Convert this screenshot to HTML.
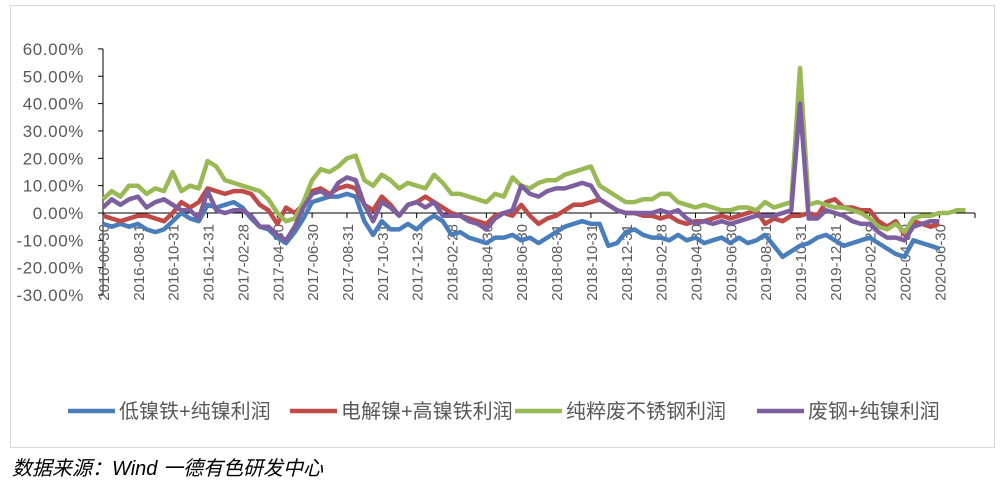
<!DOCTYPE html>
<html><head><meta charset="utf-8"><style>
body{margin:0;background:#fff;width:1006px;height:492px;overflow:hidden;font-family:"Liberation Sans","Noto Sans CJK SC",sans-serif}
</style></head><body>
<svg id="chart" width="1006" height="492" xmlns="http://www.w3.org/2000/svg" style="position:absolute;left:0;top:0">
<rect x="10.5" y="5.5" width="984" height="442" fill="#fff" stroke="#d9d9d9"/>
<g id="yax"></g><g id="xax"></g><g id="series"></g><g id="legend"></g>
<text x="12" y="475" font-size="20" font-style="italic" fill="#000" font-family="Liberation Sans,Noto Sans CJK SC,sans-serif">数据来源：Wind  一德有色研发中心</text>
</svg>
<script>
const yTicks=[60,50,40,30,20,10,0,-10,-20,-30];
const xLabels=["2016-06-30","2016-08-31","2016-10-31","2016-12-31","2017-02-28","2017-04-30","2017-06-30","2017-08-31","2017-10-31","2017-12-31","2018-02-28","2018-04-30","2018-06-30","2018-08-31","2018-10-31","2018-12-31","2019-02-28","2019-04-30","2019-06-30","2019-08-31","2019-10-31","2019-12-31","2020-02-29","2020-04-30","2020-06-30"];
const seriesNames=["低镍铁+纯镍利润","电解镍+高镍铁利润","纯粹废不锈钢利润","废钢+纯镍利润"];
const blue=[-4,-5,-4,-5,-4,-6,-7,-6,-3,0,-2,-3,3,2,3,4,2,-2,-5,-6,-9,-11,-7,-2,4,5,6,6,7,6,-3,-8,-3,-6,-6,-4,-6,-3,-1,-3,-8,-7,-9,-10,-11,-9,-9,-8,-10,-9,-11,-9,-7,-5,-4,-3,-4,-4,-12,-11,-7,-6,-8,-9,-9,-10,-8,-10,-9,-11,-10,-9,-11,-9,-11,-10,-8,-12,-16,-14,-12,-11,-9,-8,-10,-12,-11,-10,-9,-11,-13,-15,-16,-10,-11,-12,-13];
const red=[-1,-2,-3,-2,-1,-1,-2,-3,0,4,2,4,9,8,7,8,8,7,3,1,-4,2,0,3,8,9,7,9,10,9,3,1,6,3,-1,3,4,6,4,2,0,-1,-2,-3,-4,-1,0,-1,3,-1,-4,-2,-1,1,3,3,4,5,3,1,0,0,-1,-1,-2,-1,-3,-4,-3,-3,-2,-1,-2,-1,0,1,-4,-2,-3,-1,-1,0,-1,4,5,2,2,1,1,-3,-5,-3,-8,-3,-4,-5,-4];
const green=[5,8,6,10,10,7,9,8,15,8,10,9,19,17,12,11,10,9,8,5,0,-3,-2,4,12,16,15,17,20,21,12,10,14,12,9,11,10,9,14,11,7,7,6,5,4,7,6,13,10,9,11,12,12,14,15,16,17,10,8,6,4,4,5,5,7,7,4,3,2,3,2,1,1,2,2,1,4,2,3,4,53,3,4,3,2,2,1,0,-2,-5,-6,-4,-7,-2,-1,-1,0,0,1,1];
const purple=[2,5,3,5,6,2,4,5,3,1,1,-2,8,1,0,1,1,-1,-5,-5,-8,-10,-5,2,7,8,6,11,13,12,3,-3,4,2,-1,3,4,2,4,-1,-1,-1,-3,-4,-6,-2,0,1,10,7,6,8,9,9,10,11,10,5,3,1,0,0,0,0,1,0,1,-2,-4,-3,-4,-3,-4,-3,-2,-1,-1,-1,0,1,40,-2,-2,1,0,-1,-3,-4,-4,-7,-9,-9,-10,-5,-4,-3,-3];
const colors=["#4a7ebb","#be4b48","#98b954","#7d5fa0"];
const ns="http://www.w3.org/2000/svg";
const X0=103,STEP=34.85/4,Y0=213,PER=2.735;
const xs=i=>X0+i*STEP, ys=v=>Y0-v*PER;
function mk(t,a,p){const e=document.createElementNS(ns,t);for(const k in a)e.setAttribute(k,a[k]);p.appendChild(e);return e;}
const yax=document.getElementById('yax'),xax=document.getElementById('xax'),sg=document.getElementById('series'),lg=document.getElementById('legend');
mk('line',{x1:X0,y1:ys(60),x2:X0,y2:ys(-30),stroke:'#000','stroke-width':1},yax);
yTicks.forEach(v=>{
 const t=mk('line',{x1:X0-5,y1:ys(v),x2:X0,y2:ys(v),stroke:'#000'},yax);
 
 
 const l=mk('text',{x:84,y:ys(v)+6,'text-anchor':'end','font-size':17,'letter-spacing':'0.6',fill:'#595959'},yax);
 l.textContent=v.toFixed(2)+'%';
 
 
});
mk('line',{x1:X0,y1:Y0,x2:975,y2:Y0,stroke:'#000'},xax);
mk('line',{x1:975,y1:Y0,x2:975,y2:Y0+5,stroke:'#000'},xax);
xLabels.forEach((s,i)=>{
 const x=xs(i*4);
 const t=mk('line',{x1:x,y1:Y0,x2:x,y2:Y0+5,stroke:'#000'},xax);
 
 
 const l=mk('text',{x:0,y:0,'text-anchor':'end','font-size':15,fill:'#595959',transform:`translate(${x+6},224) rotate(-90)`},xax);
 l.textContent=s;
 
 
});
[blue,red,green,purple].forEach((arr,k)=>{
 const p=mk('polyline',{points:arr.map((v,i)=>xs(i).toFixed(1)+','+ys(v).toFixed(1)).join(' '),fill:'none',stroke:colors[k],'stroke-width':4.5,'stroke-linejoin':'round'},sg);
 
 
});
const lx=[68,290,515,757];
seriesNames.forEach((n,k)=>{
 const g=mk('g',{},lg);
 
 
 mk('line',{x1:lx[k],y1:411,x2:lx[k]+47,y2:411,stroke:colors[k],'stroke-width':4.5},g);
 const t=mk('text',{x:lx[k]+51,y:418,'font-size':20,fill:'#595959'},g);
 t.textContent=n;
});
</script>
</body></html>
